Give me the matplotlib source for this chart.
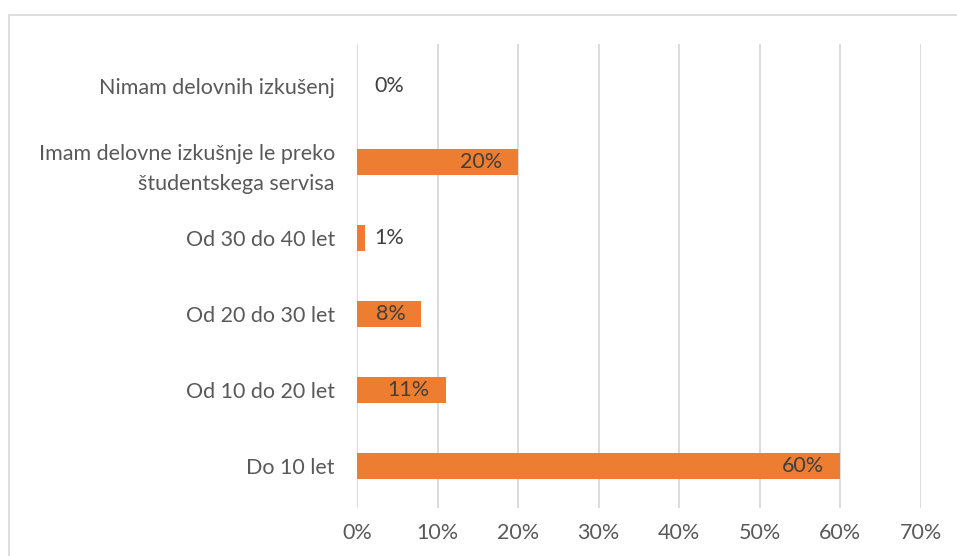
import matplotlib.pyplot as plt
import matplotlib.patches as mpatches
from matplotlib.ticker import FuncFormatter

# data (bottom to top)
categories = ['Do 10 let', 'Od 10 do 20 let', 'Od 20 do 30 let', 'Od 30 do 40 let',
              'Imam delovne izkušnje le preko\nštudentskega servisa', 'Nimam delovnih izkušenj']
values = [60, 11, 8, 1, 20, 0]
label_inside = [True, True, True, False, True, False]

plt.rcParams['font.family'] = ['Lato', 'DejaVu Sans']
fs = 15.5

fig = plt.figure(figsize=(9.57, 5.56), dpi=100)
ax = fig.add_axes([357 / 957, 1 - 508 / 556, (921 - 357) / 957, (508 - 44) / 556])

# light outer border like the chart area in the original
fig.patches.append(mpatches.Rectangle((9 / 957, -0.2), 1.2, 1.2 - 15 / 556, transform=fig.transFigure,
                                      fill=False, edgecolor='#D9D9D9', linewidth=1.2))

y = range(len(categories))
bars = ax.barh(y, values, height=0.35, color='#ED7D31', zorder=3)

for i, v in enumerate(values):
    if label_inside[i]:
        ax.annotate(f'{v}%', (v, i), xytext=(-16, 0), textcoords='offset pixels',
                    ha='right', va='center', fontsize=fs, color='#404040', zorder=4)
    else:
        ax.annotate(f'{v}%', (v, i), xytext=(17 - v * 8, 0), textcoords='offset pixels',
                    ha='left', va='center', fontsize=fs, color='#404040', zorder=4)

ax.set_xlim(0, 70)
ax.set_ylim(-0.55, 5.55)
ax.set_xticks(range(0, 71, 10))
ax.xaxis.set_major_formatter(FuncFormatter(lambda x, p: f'{int(x)}%'))
ax.set_yticks(list(y))
ax.set_yticklabels(categories, linespacing=1.6)
ax.tick_params(axis='both', length=0, labelsize=fs, labelcolor='#595959')
ax.tick_params(axis='y', pad=16)
ax.tick_params(axis='x', pad=11)
ax.grid(axis='x', color='#D9D9D9', linewidth=1.3, zorder=0)
for s in ax.spines.values():
    s.set_visible(False)

fig.savefig('out.png', dpi=100)
